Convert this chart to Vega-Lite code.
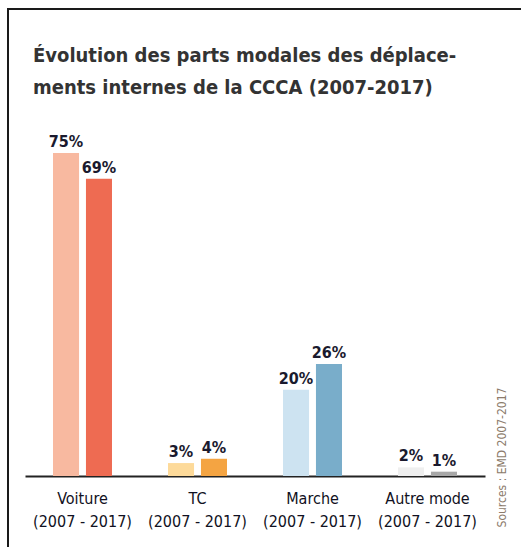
{
  "$schema": "https://vega.github.io/schema/vega-lite/v6.json",
  "width": 530,
  "height": 560,
  "autosize": {"type": "none"},
  "padding": {"left": 8, "top": 9, "right": 0, "bottom": 0},
  "background": "white",
  "config": {
    "view": {"stroke": "#1a1a1a", "strokeWidth": 2},
    "font": "DejaVu Sans Condensed",
    "axis": {"grid": false}
  },
  "title": {
    "text": ["Évolution des parts modales des déplace-", "ments internes de la CCCA (2007-2017)"],
    "anchor": "start",
    "frame": "group",
    "orient": "top",
    "offset": -89,
    "dx": 25,
    "fontSize": 20,
    "fontWeight": "bold",
    "color": "#333333",
    "lineHeight": 32,
    "font": "DejaVu Sans Condensed"
  },
  "data": {
    "values": [
      {"mode": "Voiture", "year": "2007", "serie": "Voiture 2007", "value": 0.75},
      {"mode": "Voiture", "year": "2017", "serie": "Voiture 2017", "value": 0.69},
      {"mode": "TC", "year": "2007", "serie": "TC 2007", "value": 0.03},
      {"mode": "TC", "year": "2017", "serie": "TC 2017", "value": 0.04},
      {"mode": "Marche", "year": "2007", "serie": "Marche 2007", "value": 0.20},
      {"mode": "Marche", "year": "2017", "serie": "Marche 2017", "value": 0.26},
      {"mode": "Autre mode", "year": "2007", "serie": "Autre mode 2007", "value": 0.02},
      {"mode": "Autre mode", "year": "2017", "serie": "Autre mode 2017", "value": 0.01}
    ]
  },
  "encoding": {
    "x": {
      "field": "mode",
      "type": "nominal",
      "sort": ["Voiture", "TC", "Marche", "Autre mode"],
      "scale": {"range": [17, 477], "paddingInner": 0, "paddingOuter": 0},
      "axis": {
        "orient": "bottom",
        "offset": -93,
        "title": null,
        "domain": true,
        "domainColor": "#222222",
        "domainWidth": 2,
        "ticks": false,
        "labelAngle": 0,
        "labelExpr": "[datum.label, '(2007 - 2017)']",
        "labelFont": "DejaVu Sans Condensed",
        "labelFontSize": 16,
        "labelFontWeight": 500,
        "labelLineHeight": 23,
        "labelColor": "#111122",
        "labelPadding": 14
      }
    },
    "xOffset": {
      "field": "year",
      "type": "nominal",
      "scale": {"paddingInner": 0.21, "paddingOuter": 0.85}
    },
    "y": {
      "field": "value",
      "type": "quantitative",
      "scale": {"domain": [-0.216, 1.0844], "nice": false, "zero": true},
      "axis": {
        "orient": "right",
        "offset": -37,
        "domain": false,
        "ticks": false,
        "labels": false,
        "grid": false,
        "title": "Sources : EMD 2007-2017",
        "titleAngle": -90,
        "titleX": 0,
        "titleY": 448,
        "titleAlign": "center",
        "titleBaseline": "middle",
        "titleFont": "DejaVu Sans Condensed",
        "titleFontSize": 12,
        "titleFontWeight": "normal",
        "titleColor": "#8c7b6b"
      }
    }
  },
  "layer": [
    {
      "mark": {"type": "bar"},
      "encoding": {
        "color": {
          "field": "serie",
          "type": "nominal",
          "scale": {
            "domain": ["Voiture 2007", "Voiture 2017", "TC 2007", "TC 2017", "Marche 2007", "Marche 2017", "Autre mode 2007", "Autre mode 2017"],
            "range": ["#F8B9A0", "#EE6B52", "#FDDA9A", "#F4A442", "#CDE3F1", "#79ADCA", "#EFEFEF", "#A8A8A8"]
          },
          "legend": null
        }
      }
    },
    {
      "mark": {"type": "text", "baseline": "bottom", "dy": -3, "fontSize": 16, "fontWeight": "bold", "font": "DejaVu Sans Condensed", "color": "#1a1a2e"},
      "encoding": {
        "text": {"field": "value", "type": "quantitative", "format": ".0%"}
      }
    }
  ]
}
